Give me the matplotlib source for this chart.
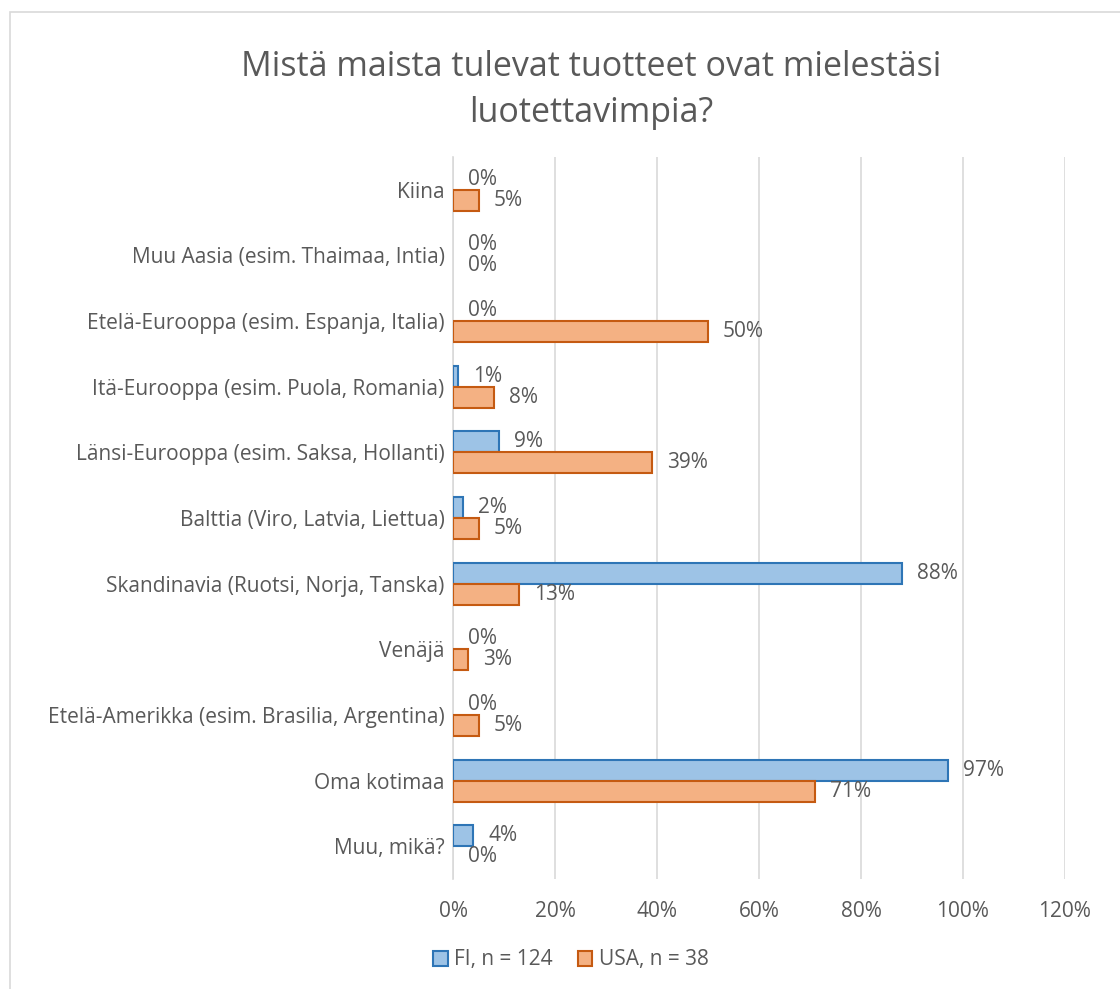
import matplotlib
matplotlib.use("Agg")
import matplotlib.pyplot as plt
from matplotlib.patches import Rectangle, Patch
import numpy as np

categories = [
    "Kiina",
    "Muu Aasia (esim. Thaimaa, Intia)",
    "Etelä-Eurooppa (esim. Espanja, Italia)",
    "Itä-Eurooppa (esim. Puola, Romania)",
    "Länsi-Eurooppa (esim. Saksa, Hollanti)",
    "Balttia (Viro, Latvia, Liettua)",
    "Skandinavia (Ruotsi, Norja, Tanska)",
    "Venäjä",
    "Etelä-Amerikka (esim. Brasilia, Argentina)",
    "Oma kotimaa",
    "Muu, mikä?",
]
fi_values = [0, 0, 0, 1, 9, 2, 88, 0, 0, 97, 4]
usa_values = [5, 0, 50, 8, 39, 5, 13, 3, 5, 71, 0]
series_names = ["FI, n = 124", "USA, n = 38"]
xticks = [0, 20, 40, 60, 80, 100, 120]
title = "Mistä maista tulevat tuotteet ovat mielestäsi\nluotettavimpia?"

plt.rcParams['font.family'] = ['Open Sans', 'DejaVu Sans']
gray = "#595959"
fi_face, fi_edge = "#9DC3E6", "#2E75B6"
us_face, us_edge = "#F4B183", "#C55A11"

W, H = 1120, 989
fig = plt.figure(figsize=(W/100, H/100), dpi=100)
# outer chart border (right and bottom fall outside the image)
fig.patches.append(Rectangle((10/W, -0.2), 1.2, 1.2 - 12/H, transform=fig.transFigure,
                             fill=False, edgecolor="#D9D9D9", lw=1.2))

left, right = 453/W, 1065/W
top, bottom = 1 - 157/H, 1 - 879/H
ax = fig.add_axes([left, bottom, right-left, top-bottom])

n = len(categories)
y = np.arange(n)
h = 0.32
fi_lw = [1.5 if v > 0 else 0 for v in fi_values]
us_lw = [1.5 if v > 0 else 0 for v in usa_values]
ax.barh(y - h/2, fi_values, height=h, color=fi_face, edgecolor=fi_edge, linewidth=fi_lw, zorder=3)
ax.barh(y + h/2, usa_values, height=h, color=us_face, edgecolor=us_edge, linewidth=us_lw, zorder=3)

fs = 15
for yi, v in zip(y - h/2, fi_values):
    ax.annotate(f"{v}%", (v, yi), xytext=(15, 0), textcoords="offset pixels",
                va="center", ha="left", fontsize=fs, color=gray)
for yi, v in zip(y + h/2, usa_values):
    ax.annotate(f"{v}%", (v, yi), xytext=(15, 0), textcoords="offset pixels",
                va="center", ha="left", fontsize=fs, color=gray)

ax.set_xlim(0, 120)
ax.set_ylim(n - 0.5, -0.5)
ax.set_xticks(xticks)
ax.set_xticklabels([f"{t}%" for t in xticks], fontsize=fs, color=gray)
ax.set_yticks(y)
ax.set_yticklabels(categories, fontsize=fs, color=gray)
ax.tick_params(axis='both', length=0)
ax.tick_params(axis='x', pad=16)
ax.tick_params(axis='y', pad=6)
ax.grid(axis='x', color="#D9D9D9", lw=1.2, zorder=0)
for s in ["top", "right", "bottom"]:
    ax.spines[s].set_visible(False)
ax.spines["left"].set_color("#D9D9D9")
ax.spines["left"].set_linewidth(1.2)

fig.text(0.528, 1 - 90/H, title, ha="center", va="center", fontsize=24.5, color=gray, linespacing=1.45)

handles = [Patch(facecolor=fi_face, edgecolor=fi_edge, lw=1.5),
           Patch(facecolor=us_face, edgecolor=us_edge, lw=1.5)]
fig.legend(handles, series_names, loc="center", bbox_to_anchor=(571/W, 1 - 960/H), ncol=2,
           frameon=False, fontsize=fs, labelcolor=gray, handlelength=0.7, handleheight=0.7,
           handletextpad=0.3, columnspacing=1.2)

fig.savefig("out.png", dpi=100)
